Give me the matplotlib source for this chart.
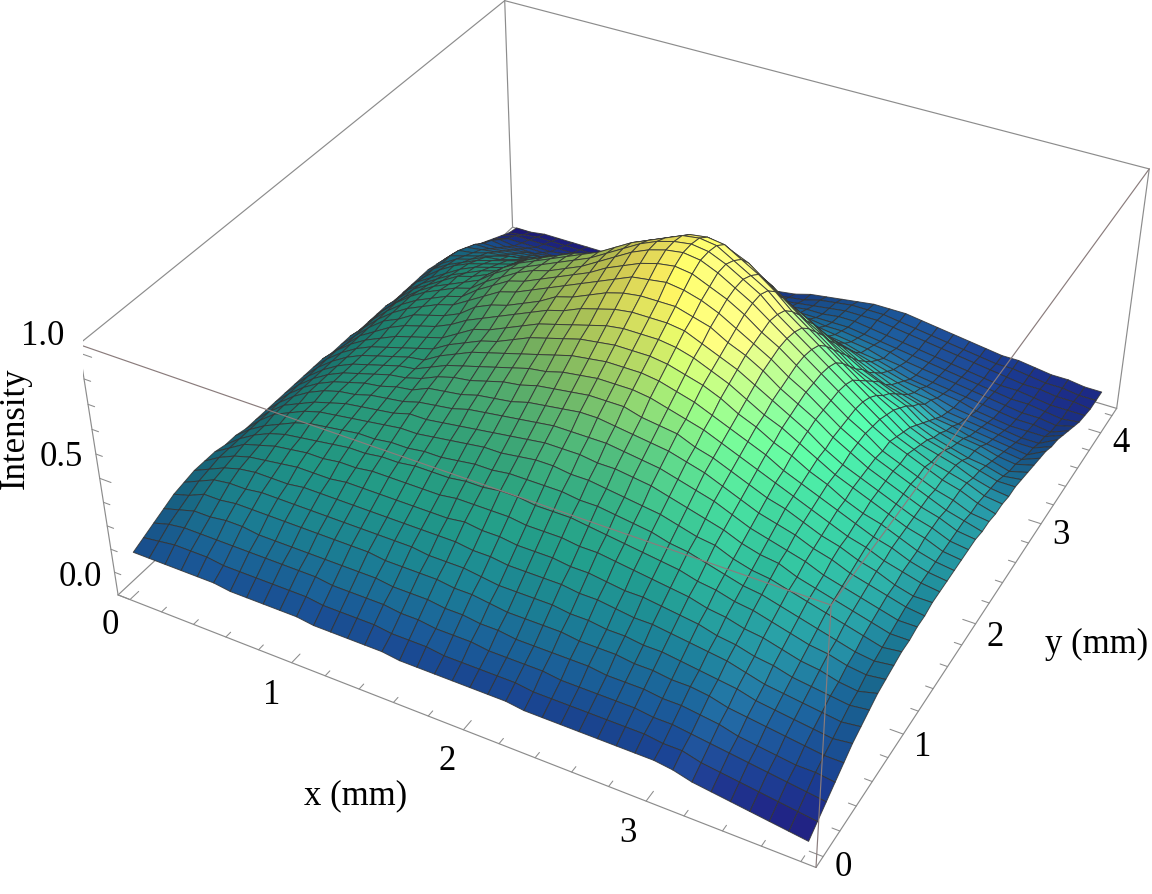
import numpy as np, matplotlib
matplotlib.use('Agg')
import matplotlib.pyplot as plt
from matplotlib.colors import LinearSegmentedColormap

x_mm = np.arange(39) * 0.1
y_mm = np.arange(43) * 0.1
# intensity in percent, one row per x, one column per y
intensity_pct = [
[17,19,21,23,25,26,27,27,27,26,26,25,25,25,25,25,25,25,25,25,24,24,24,23,23,23,23,22,22,22,22,22,21,20,19,17,15,13,11,9,7,5,4],
[17,20,23,25,27,29,30,31,31,31,31,31,31,31,31,31,31,31,31,31,30,30,30,30,30,29,29,29,29,28,28,27,27,26,24,22,19,17,14,11,9,6,4],
[17,21,24,27,30,32,33,34,35,35,35,36,36,36,36,36,36,36,36,36,36,36,36,36,36,35,35,34,33,33,32,31,29,27,25,22,19,16,13,11,9,7,5],
[17,21,24,27,30,33,35,36,37,38,38,39,39,40,40,40,40,40,40,40,40,41,41,41,41,40,39,38,37,37,35,33,31,29,26,23,20,17,14,11,9,7,5],
[17,21,24,28,31,33,36,37,39,40,41,42,42,43,43,43,43,43,43,43,44,44,45,45,45,44,43,42,41,40,38,36,33,30,27,24,21,17,14,11,9,7,5],
[17,20,24,28,31,34,36,38,40,41,43,44,44,45,45,45,45,45,45,46,47,48,48,48,48,47,47,45,44,42,40,37,35,31,28,25,21,18,14,12,9,7,5],
[16,20,24,27,31,34,36,39,41,42,44,45,46,46,47,47,47,47,47,48,49,50,51,51,51,50,49,48,46,44,42,39,36,33,29,25,22,18,15,12,9,7,5],
[16,20,24,27,31,34,37,39,41,43,45,46,47,48,48,49,49,49,49,50,51,52,53,53,53,53,52,50,48,46,44,41,37,34,30,26,22,18,15,12,10,8,6],
[16,20,24,27,31,34,37,39,42,44,46,47,48,49,50,50,50,50,51,52,54,55,57,58,58,58,57,55,53,50,47,43,39,35,31,27,23,19,15,12,10,8,6],
[16,20,24,27,31,34,37,40,42,44,46,48,49,50,51,52,53,54,55,56,58,60,61,62,62,62,61,59,56,53,50,46,42,37,32,28,23,19,16,13,10,8,6],
[16,20,24,27,31,34,37,40,43,45,47,49,51,52,54,55,56,57,58,60,61,63,65,66,66,65,64,62,59,56,52,48,43,38,33,29,24,20,16,13,10,8,6],
[15,19,23,27,31,34,37,40,43,45,47,49,51,53,55,57,58,60,61,62,64,65,67,68,69,68,67,65,62,58,54,50,45,39,34,29,25,20,16,13,11,8,7],
[15,19,23,27,31,34,37,40,43,46,48,50,52,54,56,58,60,62,63,65,67,68,70,71,71,71,70,68,64,60,56,51,46,40,35,30,25,21,17,13,11,9,7],
[15,19,23,27,30,34,37,40,43,46,48,51,53,56,58,60,62,64,66,68,70,71,73,74,74,74,73,70,66,62,58,53,47,41,35,31,26,21,17,14,11,9,7],
[15,19,23,26,30,34,37,40,43,46,49,52,54,57,59,62,64,66,69,71,73,75,76,77,77,77,76,73,69,65,60,54,48,42,36,31,26,22,17,14,12,9,8],
[15,18,22,26,30,33,37,40,44,47,50,53,55,58,60,63,66,68,71,73,75,77,79,80,81,81,80,77,73,68,62,56,50,43,37,32,27,22,18,14,12,10,8],
[14,18,22,26,30,33,37,41,44,47,50,53,56,59,62,65,67,70,73,75,78,80,82,84,85,85,84,81,77,71,65,58,51,44,38,32,27,22,18,15,13,11,9],
[14,18,21,25,29,33,36,40,44,48,51,54,57,60,63,66,69,72,75,77,80,83,85,87,89,89,87,84,80,74,67,60,52,45,38,33,28,23,19,16,14,12,10],
[14,17,21,25,29,32,36,40,44,48,51,55,58,61,64,67,70,73,76,79,82,85,88,90,92,92,90,87,82,76,69,61,53,46,39,33,28,23,20,17,15,13,11],
[14,17,21,24,28,31,35,39,43,47,51,55,58,61,65,68,71,74,77,80,83,86,89,92,94,94,93,90,85,78,70,62,54,46,39,33,28,24,21,18,16,14,12],
[14,17,20,24,27,31,35,39,43,47,51,54,58,61,65,68,71,74,77,80,83,86,90,93,95,95,94,91,86,79,70,61,53,46,39,34,29,25,22,19,17,15,14],
[14,17,20,23,27,31,35,39,43,47,50,54,57,61,64,68,71,74,77,80,83,86,89,92,94,94,93,90,84,76,68,60,52,45,38,33,29,25,22,20,18,17,15],
[14,17,20,23,27,31,35,38,42,46,50,53,57,60,63,66,70,73,76,79,82,84,87,89,91,91,89,86,81,74,66,58,51,44,38,33,28,25,22,20,19,18,16],
[13,16,20,23,27,30,34,38,42,45,49,52,56,59,62,65,68,71,74,77,79,82,84,86,87,87,85,82,76,70,63,56,49,42,36,31,27,24,22,21,20,19,17],
[13,16,19,23,26,30,34,37,41,44,48,51,55,58,61,64,66,69,72,74,76,78,80,82,83,83,81,77,71,65,59,53,47,40,34,29,26,24,22,21,20,19,18],
[13,16,19,23,26,29,33,36,40,43,47,50,53,56,59,61,64,66,69,71,73,75,76,77,78,77,75,71,66,60,55,49,43,37,32,28,25,23,21,20,20,19,18],
[13,16,19,22,26,29,32,36,39,42,45,48,51,54,57,59,61,63,65,67,69,71,72,73,73,72,70,66,61,56,50,45,40,35,30,26,24,22,20,19,19,18,18],
[13,16,19,22,25,28,32,35,38,41,44,46,49,52,54,56,58,60,62,63,65,66,67,68,68,67,65,61,56,51,46,41,36,32,28,25,22,21,19,18,18,17,17],
[13,16,19,22,25,28,31,34,37,39,42,45,47,49,51,53,55,57,58,60,61,62,63,63,63,62,60,56,51,46,42,37,33,29,26,23,21,19,18,17,17,16,16],
[13,16,18,21,24,27,30,33,35,38,40,42,44,46,48,50,52,53,55,56,57,58,58,58,58,57,55,51,47,43,39,34,30,27,24,21,19,18,17,16,16,15,15],
[13,15,18,21,24,26,29,31,34,36,38,40,42,44,46,48,49,50,51,52,52,53,53,53,53,52,50,47,43,40,36,32,28,25,23,20,18,17,16,15,15,14,14],
[12,15,17,20,23,25,28,30,32,35,37,39,41,42,44,45,46,47,48,48,48,49,49,49,48,47,45,43,40,37,33,30,26,24,21,19,17,16,15,14,14,13,13],
[10,13,16,19,21,24,26,28,31,33,35,37,38,40,41,42,43,44,44,45,45,45,45,44,44,42,40,38,35,32,29,26,23,21,19,18,16,15,14,13,13,12,12],
[9,12,15,17,20,22,24,27,29,31,33,35,36,37,39,40,40,41,41,42,42,42,42,41,41,39,37,35,32,30,27,25,22,20,18,16,15,14,13,12,12,12,12],
[8,11,14,16,19,21,23,25,27,29,31,33,34,35,36,37,38,38,39,39,39,39,39,38,38,36,35,33,30,28,26,23,21,19,17,15,14,13,12,12,11,11,11],
[7,10,13,15,18,20,22,24,26,28,29,31,32,33,34,35,35,36,36,36,36,36,36,35,35,34,33,31,28,27,25,22,20,18,16,14,13,12,12,11,11,10,10],
[6,9,12,14,17,19,21,23,24,26,27,29,30,31,32,32,33,33,33,34,34,34,33,33,33,32,30,29,27,25,23,21,19,17,15,14,13,12,11,10,10,10,10],
[5,8,11,14,16,18,20,22,23,25,26,27,28,29,30,30,31,31,31,31,31,31,31,30,30,29,28,27,25,23,22,20,18,17,15,14,12,11,10,10,10,9,9],
[4,7,10,13,16,19,21,23,25,26,27,28,28,29,29,30,30,30,30,30,30,30,29,29,28,28,27,27,26,25,24,23,22,20,19,17,15,13,11,10,9,9,9],
]
x_ticks = [0, 1, 2, 3]
y_ticks = [0, 1, 2, 3, 4]
z_ticks = ['0.0', '0.5', '1.0']

Z = np.array(intensity_pct, float) / 100.0
X, Y = np.meshgrid(x_mm, y_mm, indexing='ij')
xlo, xhi = -0.076, 3.876
ylo, yhi = -0.084, 4.284
zlo, zhi = 0.0, 1.034

plt.rcParams['font.family'] = ['Liberation Serif', 'DejaVu Serif']
W_PX, H_PX = 1152, 894
fig = plt.figure(figsize=(W_PX/100, H_PX/100), dpi=100, facecolor='white')
ax = fig.add_axes([0, 0, 1, 1], projection='3d', computed_zorder=False)
ax.view_init(elev=36.1364, azim=-61.5674)
ax.set_proj_type('persp', focal_length=0.4394)
ax.set_box_aspect((2.5089, 2.5112, 1))
ax.set_xlim(xlo, xhi); ax.set_ylim(ylo, yhi); ax.set_zlim(zlo, zhi)
ax.set_axis_off()
S, TX, TY = 5864.65, 640.60, 379.05
p0 = ax.transLimits.transform((0, 0)); p1 = ax.transLimits.transform((1, 1))
Wa = S/(p1[0]-p0[0]); Ha = S/(p1[1]-p0[1])
left = TX - Wa*p0[0]; bottom = (H_PX-TY) - Ha*p0[1]
ax.set_position([left/W_PX, bottom/H_PX, Wa/W_PX, Ha/H_PX])

cmap = LinearSegmentedColormap.from_list('bgy', [
    (0.00, '#200a70'), (0.08, '#1c2480'), (0.12, '#1a3a8c'), (0.20, '#1a5a96'),
    (0.30, '#1b7f92'), (0.40, '#219a88'), (0.50, '#2fa680'), (0.60, '#52b878'),
    (0.70, '#8cc868'), (0.80, '#d0e060'), (0.90, '#fff060'), (1.00, '#ffff70')])

def blur(A, passes=2):
    for _ in range(passes):
        P = np.pad(A, 1, mode='edge')
        A = (P[:-2, 1:-1]+P[2:, 1:-1]+P[1:-1, :-2]+P[1:-1, 2:]+2*P[1:-1, 1:-1])/6
    return A
dzx = (Z[1:, :-1]+Z[1:, 1:]-Z[:-1, :-1]-Z[:-1, 1:])/2/0.1 * (3.952/2.5089)/zhi
zc = (Z[1:, :-1]+Z[1:, 1:]+Z[:-1, :-1]+Z[:-1, 1:])/4
dzx = blur(dzx)
sx = -dzx/np.sqrt(1+dzx**2)
fac = np.clip(1+0.38*sx, 0.78, 1.25)[..., None]
add = (0.2*np.clip((sx-0.12)/0.4, 0, 1))[..., None]*np.array([0.55, 1.0, 0.4])
rgb = cmap(np.clip(zc, 0, 1))[..., :3]
lit = np.clip(rgb*fac+add, 0, 1)
fc = np.dstack([lit, np.ones(zc.shape)])

ax.plot_surface(X, Y, Z, rstride=1, cstride=1, facecolors=fc, shade=False,
                edgecolor=(0.2, 0.2, 0.2, 0.85), linewidth=0.7, antialiased=True, zorder=2)

BOX = '#8c8c8c'
def seg(a, b, z=1, c=BOX, lw=0.85):
    ax.plot([a[0], b[0]], [a[1], b[1]], [a[2], b[2]], color=c, lw=lw, zorder=z, solid_capstyle='round')
a = (xlo, ylo, zlo); b = (xhi, ylo, zlo); c = (xhi, yhi, zlo); d = (xlo, yhi, zlo)
at = (xlo, ylo, zhi); bt = (xhi, ylo, zhi); ct = (xhi, yhi, zhi); dt = (xlo, yhi, zhi)
for p, q in [(a, b), (b, c), (a, d), (d, c), (a, at), (c, ct), (d, dt), (at, dt), (dt, ct)]:
    seg(p, q, 1)
for p, q in [(at, bt), (bt, ct), (b, bt)]:
    seg(p, q, 3, c='#8a7c7c')
TK = '#8c8c8c'
for v in np.arange(0, 3.81, 0.2):
    n = abs(v-round(v)) < 1e-6
    seg((v, ylo, zlo), (v, ylo+(0.08 if n else 0.045), zlo), 1, TK, 0.75)
for v in np.arange(0, 4.21, 0.2):
    n = abs(v-round(v)) < 1e-6
    seg((xhi, v, zlo), (xhi-(0.07 if n else 0.04), v, zlo), 1, TK, 0.75)
for v in np.arange(0, 1.01, 0.1):
    n = int(round(v*10)) % 5 == 0
    seg((xlo, ylo, v), (xlo+(0.07 if n else 0.04), ylo, v), 1, TK, 0.75)

fs = 25
def T(px, py, s, **k):
    fig.text(px/W_PX, 1-py/H_PX, s, ha='center', va='center', fontsize=fs, color='black', **k)
for s, pos in zip(x_ticks, [(110, 626), (272, 695), (447, 762), (628, 833)]):
    T(*pos, str(s))
for s, pos in zip(y_ticks, [(843, 868), (923, 747), (995, 637), (1061, 535), (1121, 444)]):
    T(*pos, str(s))
for s, pos in zip(z_ticks, [(80, 577), (61, 458), (43, 337)]):
    T(*pos, s)
T(356, 796, 'x (mm)'); T(1097, 644, 'y (mm)'); T(15, 428, 'Intensity', rotation=90)
fig.savefig('out.png', dpi=100)
